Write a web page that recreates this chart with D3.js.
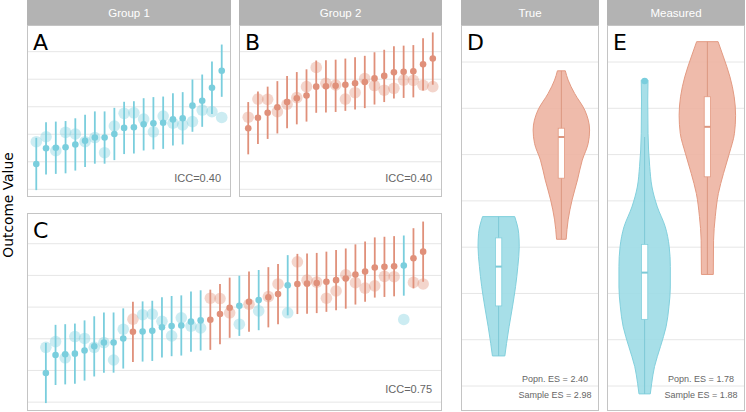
<!DOCTYPE html>
<html><head><meta charset="utf-8">
<script src="https://cdn.jsdelivr.net/npm/d3@7/dist/d3.min.js"></script>
<style>body{margin:0;background:#fff}svg{display:block}</style>
</head><body>
<svg id="chart" width="746" height="412"></svg>
<script>
// ---------- data ----------
const groupNames = ["Group 1", "Group 2"];
const panelTitlesDE = ["True", "Measured"];
// Group 1 clusters: estimated means (sorted) and true cluster values
const group1Est  = [0.92,1.49,1.51,1.53,1.63,1.76,1.88,1.88,2.01,2.23,2.25,2.36,2.40,2.42,2.54,2.58,3.04,3.22,3.69,4.31];
const group1True = [1.73,1.91,1.40,2.07,2.01,1.73,1.88,1.33,2.30,2.76,2.78,2.55,2.09,2.66,2.40,2.34,2.46,2.88,2.82,2.61];
// Group 2 clusters
const group2Est  = [2.22,2.60,2.78,2.98,3.17,3.31,3.41,3.73,3.74,3.76,3.80,3.85,3.90,4.03,4.12,4.25,4.27,4.29,4.54,4.75];
const group2True = [2.62,3.28,3.27,2.82,3.09,3.33,3.73,4.43,3.85,3.79,3.28,3.51,4.02,3.77,3.60,3.67,3.97,3.96,3.78,3.73];
const ciHalf = 0.95;
const iccLabels = ["ICC=0.40", "ICC=0.40", "ICC=0.75"];
const gridABC = [0,1,2,3,4,5];
const gridDE = [0,1,2,3,4,5,6,7];

// violin profiles: [value, relative density]
const violinTrueG1 = [[3.66,0.57],[3.30,0.71],[3.01,0.73],[2.58,0.68],[2.15,0.60],[1.71,0.49],[1.28,0.37],[0.92,0.28],[0.65,0.22]];
const violinTrueG2 = [[6.81,0.14],[6.61,0.24],[6.32,0.47],[5.96,0.83],[5.53,1.00],[5.24,0.95],[4.88,0.74],[4.45,0.57],[4.02,0.38],[3.59,0.24],[3.17,0.17]];
const violinMeasG1 = [[6.61,0.12],[6.18,0.11],[5.46,0.12],[4.74,0.18],[4.30,0.26],[3.87,0.45],[3.44,0.73],[3.01,0.87],[2.58,0.91],[2.14,0.91],[1.71,0.86],[1.28,0.76],[0.85,0.56],[0.42,0.35],[0.06,0.25],[-0.17,0.20]];
const violinMeasG2 = [[7.44,0.38],[7.11,0.57],[6.68,0.80],[6.25,0.95],[5.85,1.00],[5.46,0.96],[5.03,0.78],[4.59,0.57],[4.16,0.39],[3.66,0.28],[3.15,0.22],[2.41,0.21]];
// boxplot stats: [lowerWhisker, q1, median, q3, upperWhisker]
const boxTrue = [[0.65,1.73,2.58,3.20,3.66],[3.17,4.49,5.38,5.57,6.81]];
const boxMeas = [[-0.17,1.44,2.45,3.06,5.38],[2.41,4.52,5.60,6.25,7.44]];
const outliersMeas = [[6.59],[]];
const esTrue = ["Popn. ES = 2.40", "Sample ES = 2.98"];
const esMeas = ["Popn. ES = 1.78", "Sample ES = 1.88"];
const panelLetters = ["A","B","C","D","E"];

// ---------- styles ----------
const col = {
  dot: ["#7ACEDD", "#E0907A"],
  vFill: ["#9DDBE6", "#EDB4A2"],
  vStroke: ["#82D0DD", "#E39A82"],
  vLine: ["#7DC9D6", "#DC9780"],
  grid: "#E6E6E6", border: "#C4C4C4", strip: "#B3B3B3"
};
const svg = d3.select("#chart");

function strip(x, w, label) {
  svg.append("rect").attr("x", x).attr("y", 0).attr("width", w).attr("height", 25).attr("fill", col.strip);
  svg.append("text").attr("x", x + w/2).attr("y", 17).attr("text-anchor", "middle")
    .attr("font-family", "Liberation Sans, Arial, sans-serif").attr("font-size", 11.5).attr("fill", "#fff").text(label);
}
function frame(p) {
  svg.append("rect").attr("x", p.x+0.5).attr("y", p.y+0.5).attr("width", p.w-1).attr("height", p.h-1)
    .attr("fill", "none").attr("stroke", col.border).attr("stroke-width", 1);
}
function letter(p, t) {
  svg.append("text").attr("x", p.x + 6).attr("y", p.y + 25)
    .attr("font-family", "DejaVu Sans, sans-serif").attr("font-size", 22).attr("fill", "#000").text(t);
}

// ---------- cluster panels ----------
function clusterPanel(p, est, tru, grp, icc) {
  const g = svg.append("g");
  const n = est.length;
  const x = d3.scaleLinear().domain([1 - 0.05*(n-1), n + 0.05*(n-1)]).range([p.x, p.x + p.w]);
  const y = d3.scaleLinear().domain([-0.28, 5.97]).range([p.y + p.h, p.y]);
  g.selectAll(".grid").data(gridABC).join("line")
    .attr("x1", p.x).attr("x2", p.x + p.w).attr("y1", d => y(d)).attr("y2", d => y(d))
    .attr("stroke", col.grid).attr("stroke-width", 1);
  const data = est.map((e, i) => ({i: i+1, e, t: tru[i], g: grp[i]}));
  g.selectAll(".big").data(data).join("circle")
    .attr("cx", d => x(d.i)).attr("cy", d => y(d.t)).attr("r", 5.8)
    .attr("fill", d => col.dot[d.g]).attr("fill-opacity", 0.38);
  g.selectAll(".bar").data(data).join("line")
    .attr("x1", d => x(d.i)).attr("x2", d => x(d.i))
    .attr("y1", d => y(d.e - ciHalf)).attr("y2", d => y(d.e + ciHalf))
    .attr("stroke", d => col.dot[d.g]).attr("stroke-width", 1.8);
  g.selectAll(".dot").data(data).join("circle")
    .attr("cx", d => x(d.i)).attr("cy", d => y(d.e)).attr("r", 3.3)
    .attr("fill", d => col.dot[d.g]);
  g.append("text").attr("x", p.x + p.w - 10).attr("y", y(0.4)).attr("dy", "0.35em")
    .attr("text-anchor", "end").attr("font-family", "Liberation Sans, Arial, sans-serif")
    .attr("font-size", 11).attr("fill", "#666").text(icc);
  frame(p);
}

const pA = {x:27, y:25, w:204, h:172};
const pB = {x:239, y:25, w:203, h:172};
const pC = {x:27, y:213, w:415, h:198};
strip(pA.x, pA.w, groupNames[0]);
strip(pB.x, pB.w, groupNames[1]);
clusterPanel(pA, group1Est, group1True, group1Est.map(() => 0), iccLabels[0]);
clusterPanel(pB, group2Est, group2True, group2Est.map(() => 1), iccLabels[1]);
const combined = group1Est.map((e,i) => ({e, t: group1True[i], g: 0}))
  .concat(group2Est.map((e,i) => ({e, t: group2True[i], g: 1})))
  .sort((a,b) => a.e - b.e);
clusterPanel(pC, combined.map(d => d.e), combined.map(d => d.t), combined.map(d => d.g), iccLabels[2]);

// ---------- violin panels ----------
function violinPanel(p, title, profiles, boxes, outs, es) {
  strip(p.x, p.w, title);
  const g = svg.append("g");
  const x = d3.scaleBand().domain([0,1]).range([p.x, p.x + p.w]).paddingOuter(0.6 / 1.0).paddingInner(0);
  // band positions: centre of each level
  const step = p.w / 2.2;
  const cx = i => p.x + (0.6 + i) * step;
  const y = d3.scaleLinear().domain([-0.54, 7.8]).range([p.y + p.h, p.y]);
  const hw = d3.scaleLinear().domain([0, 1]).range([0, 0.45 * step]);
  g.selectAll(".grid").data(gridDE).join("line")
    .attr("x1", p.x).attr("x2", p.x + p.w).attr("y1", d => y(d)).attr("y2", d => y(d))
    .attr("stroke", col.grid).attr("stroke-width", 1);
  profiles.forEach((prof, i) => {
    const area = d3.area().curve(d3.curveMonotoneY)
      .y(d => y(d[0])).x0(d => cx(i) - hw(d[1])).x1(d => cx(i) + hw(d[1]));
    const sorted = prof.slice().sort((a,b) => a[0]-b[0]);
    g.append("path").attr("d", area(sorted)).attr("fill", col.vFill[i]).attr("fill-opacity", 0.9)
      .attr("stroke", col.vStroke[i]).attr("stroke-width", 1);
    const b = boxes[i];
    g.append("line").attr("x1", cx(i)).attr("x2", cx(i)).attr("y1", y(b[0])).attr("y2", y(b[4]))
      .attr("stroke", col.vLine[i]).attr("stroke-width", 1);
    const bw = 0.1 * step;
    g.append("rect").attr("x", cx(i) - bw/2).attr("width", bw).attr("y", y(b[3])).attr("height", y(b[1]) - y(b[3]))
      .attr("fill", "#fff").attr("stroke", col.vStroke[i]).attr("stroke-width", 0.8);
    g.append("line").attr("x1", cx(i) - bw/2).attr("x2", cx(i) + bw/2).attr("y1", y(b[2])).attr("y2", y(b[2]))
      .attr("stroke", col.vLine[i]).attr("stroke-width", 2);
    outs[i].forEach(o => {
      g.append("circle").attr("cx", cx(i)).attr("cy", y(o)).attr("r", 3.3).attr("fill", col.dot[i]);
    });
  });
  [0.145, -0.19].forEach((v, k) => {
    g.append("text").attr("x", p.x + 94).attr("y", y(v)).attr("dy", "0.35em").attr("text-anchor", "middle")
      .attr("font-family", "Liberation Sans, Arial, sans-serif").attr("font-size", 9).attr("fill", "#666").text(es[k]);
  });
  frame(p);
}
const pD = {x:461, y:25, w:138, h:386};
const pE = {x:607, y:25, w:138, h:386};
violinPanel(pD, panelTitlesDE[0], [violinTrueG1, violinTrueG2], boxTrue, [[],[]], esTrue);
violinPanel(pE, panelTitlesDE[1], [violinMeasG1, violinMeasG2], boxMeas, outliersMeas, esMeas);

// letters
[pA, pB, pC, pD, pE].forEach((p, i) => letter(p, panelLetters[i]));

// y-axis title
svg.append("text").attr("transform", "translate(13,205) rotate(-90)").attr("text-anchor", "middle")
  .attr("font-family", "DejaVu Sans, sans-serif").attr("font-size", 13.8).attr("fill", "#000").text("Outcome Value");
</script>
</body></html>
